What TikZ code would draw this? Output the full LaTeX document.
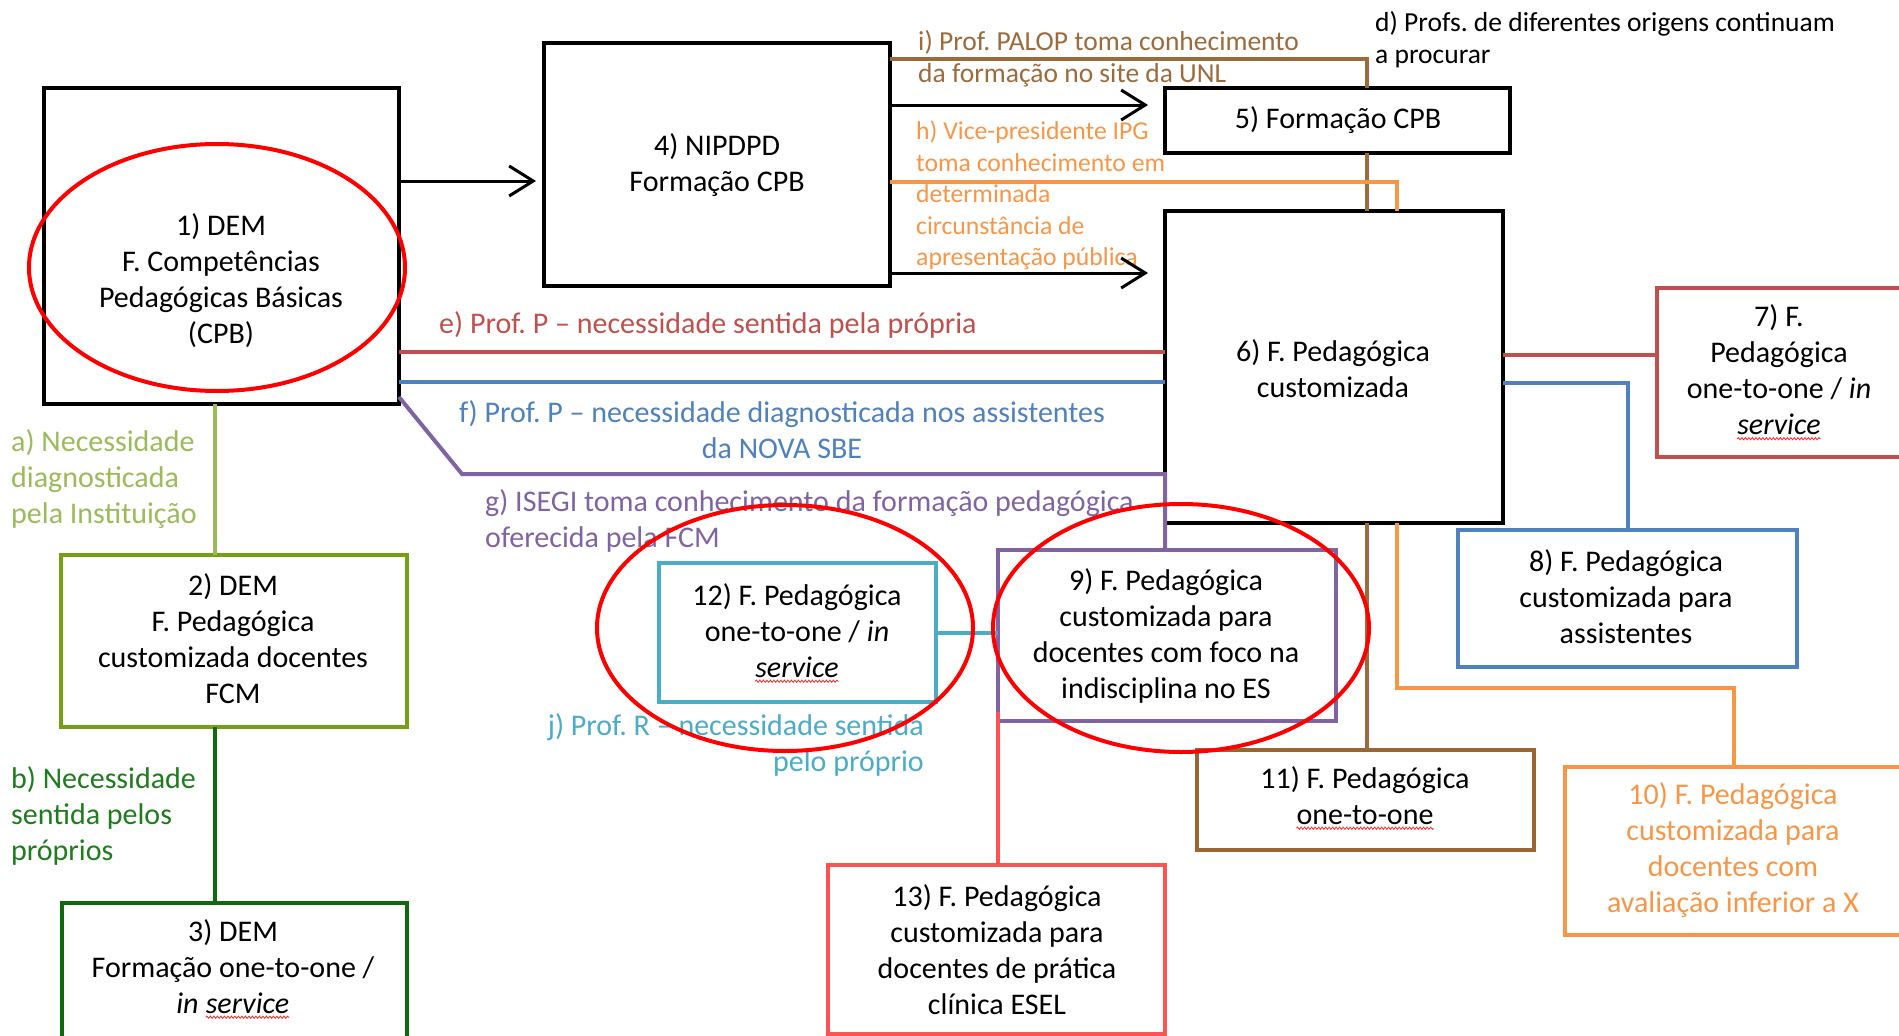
\documentclass[tikz,border=0pt]{standalone}
\usepackage{fontspec}
\setmainfont{Carlito}
\usetikzlibrary{arrows.meta,decorations.pathmorphing,calc}
\definecolor{cRed}{HTML}{C0504D}
\definecolor{cBlue}{HTML}{4F81BD}
\definecolor{cPurple}{HTML}{8064A2}
\definecolor{cOrange}{HTML}{F79646}
\definecolor{cBrown}{HTML}{9C6B3C}
\definecolor{cBrownBox}{HTML}{996633}
\definecolor{cCyan}{HTML}{4BACC6}
\definecolor{cLGreen}{HTML}{9BBB59}
\definecolor{cGreen}{HTML}{76A014}
\definecolor{cDGreen}{HTML}{11690F}
\definecolor{cDGreenTxt}{HTML}{1E7B1E}
\definecolor{cCoral}{HTML}{FF5353}
\newcommand\squig[1]{\tikz[baseline=(sq.base)]{\node[inner sep=0pt,outer sep=0pt] (sq) {#1};\draw[red!85,line width=0.8pt,decorate,decoration={snake,amplitude=1.1pt,segment length=3.5pt}] ([yshift=-4pt]sq.base west) -- ([yshift=-4pt]sq.base east);}}
\frenchspacing
\begin{document}
\begin{tikzpicture}[x=1pt,y=-1pt,
  bx/.style={draw=black, line width=3.5pt, inner sep=0pt, outer sep=0pt},
  cbx/.style={draw=#1, line width=4.5pt, inner sep=0pt, outer sep=0pt},
  txt/.style={align=center, inner sep=0pt, font=\fontsize{30}{36}\selectfont},
  lbl/.style={inner sep=0pt, font=\fontsize{30}{36}\selectfont},
  slbl/.style={inner sep=0pt, font=\fontsize{27.5}{32}\selectfont},
  hlbl/.style={inner sep=0pt, font=\fontsize{25.7}{31.5}\selectfont},
  conn/.style={line width=4pt},
  arr/.style={line width=3pt, -{Straight Barb[length=24pt,width=30pt]}},
  ring/.style={draw=red, line width=4pt}
]
\useasboundingbox (0,0) rectangle (1899,1036);
\fill[white] (0,0) rectangle (1899,1036);

% boxes
\node[bx, minimum width=355pt, minimum height=316pt] (b1) at (221.5,246) {};
\node[cbx=cGreen, minimum width=346pt, minimum height=172pt] (b2) at (234,641) {};
\node[cbx=cDGreen, minimum width=345pt, minimum height=157pt] (b3) at (234.5,981.5) {};
\node[bx, minimum width=346pt, minimum height=243pt] (b4) at (717,164.5) {};
\node[bx, minimum width=345pt, minimum height=65pt] (b5) at (1337.5,120.5) {};
\node[bx, minimum width=338pt, minimum height=312pt] (b6) at (1334,367) {};
\node[cbx=cRed, minimum width=248pt, minimum height=169pt] (b7) at (1781,372.5) {};
\node[cbx=cBlue, minimum width=339pt, minimum height=137pt] (b8) at (1627.5,598.5) {};
\node[cbx=cPurple, minimum width=338pt, minimum height=171pt] (b9) at (1167,635.5) {};
\node[cbx=cOrange, minimum width=338pt, minimum height=168pt] (b10) at (1734,851) {};
\node[cbx=cBrownBox, minimum width=337pt, minimum height=100pt] (b11) at (1365.5,800) {};
\node[cbx=cCyan, minimum width=277pt, minimum height=139pt] (b12) at (797.5,632.5) {};
\node[cbx=cCoral, minimum width=337pt, minimum height=169pt] (b13) at (996.5,949.5) {};

% box texts
\node[txt] (t1) at (221,281) {1) DEM\\F. Competências\\Pedagógicas Básicas\\(CPB)};
\node[txt] (t2) at (233,639) {2) DEM\\F. Pedagógica\\customizada docentes\\FCM};
\node[txt] (t3) at (233,969) {3) DEM\\Formação one-to-one /\\\textit{in \squig{service}}};
\node[txt] (t4) at (717,165) {4) NIPDPD\\Formação CPB};
\node[txt] (t5) at (1338,120) {5) Formação CPB};
\node[txt] (t6) at (1333,369) {6) F. Pedagógica\\customizada};
\node[txt] (t7) at (1779,372.5) {7) F.\\Pedagógica\\one-to-one / \textit{in}\\\textit{\squig{service}}};
\node[txt] (t8) at (1626,596.5) {8) F. Pedagógica\\customizada para\\assistentes};
\node[txt] (t9) at (1166,636) {9) F. Pedagógica\\customizada para\\docentes com foco na\\indisciplina no ES};
\node[txt, text=cOrange] (t10) at (1733,850) {10) F. Pedagógica\\customizada para\\docentes com\\avaliação inferior a X};
\node[txt] (t11) at (1365,798) {11) F. Pedagógica\\\squig{one-to-one}};
\node[txt] (t12) at (797,633) {12) F. Pedagógica\\one-to-one / \textit{in}\\\textit{\squig{service}}};
\node[txt] (t13) at (997,950) {13) F. Pedagógica\\customizada para\\docentes de prática\\clínica ESEL};

% labels
\node[lbl, text=cLGreen, align=left, anchor=west] (la) at (11,479) {a) Necessidade\\diagnosticada\\pela Instituição};
\node[lbl, text=cDGreenTxt, align=left, anchor=west] (lb) at (11,816) {b) Necessidade\\sentida pelos\\próprios};
\node[slbl, text=black, align=left, anchor=west] (ld) at (1375,39.5) {d) Profs. de diferentes origens continuam\\a procurar};
\node[lbl, text=cRed, anchor=west] (le) at (439,325) {e) Prof. P – necessidade sentida pela própria};
\node[lbl, text=cBlue, align=center] (lf) at (782,429.5) {f) Prof. P – necessidade diagnosticada nos assistentes\\da NOVA SBE};
\node[lbl, text=cPurple, align=left, anchor=west] (lg) at (485,521) {g) ISEGI toma conhecimento da formação pedagógica\\oferecida pela FCM};
\node[hlbl, text=cOrange, align=left, anchor=west] (lh) at (916,195.5) {h) Vice-presidente IPG\\toma conhecimento em\\determinada\\circunstância de\\apresentação pública};
\node[slbl, text=cBrown, align=left, anchor=west] (li) at (918,59) {i) Prof. PALOP toma conhecimento\\da formação no site da UNL};
\node[lbl, text=cCyan, align=right, anchor=east] (lj) at (924,745) {j) Prof. R – necessidade sentida\\pelo próprio};

% arrows
\draw[arr, shorten >=8pt] ([yshift=65pt]b1.east) -- ([yshift=65pt]b1.east -| b4.west);
\draw[arr, shorten >=17pt] ([yshift=59.5pt]b4.east) -- ([yshift=59.5pt]b4.east -| b5.west);
\draw[arr, shorten >=17pt] ([yshift=-108.5pt]b4.east) -- ([yshift=-108.5pt]b4.east -| b6.west);

% brown i
\draw[conn, cBrown] ([yshift=105.5pt]b4.east) -| ([xshift=29.5pt]b5.north);
\draw[conn, cBrown] ([xshift=29.5pt]b5.south) -- ([xshift=29.5pt]b5.south |- b6.north);
\draw[conn, cBrown] ([xshift=33pt]b6.south) -- ([xshift=33pt]b6.south |- b11.north);

% orange h
\draw[conn, cOrange] ([yshift=-17.5pt]b4.east) -| ([xshift=63pt]b6.north);
\draw[conn, cOrange] ([xshift=63pt]b6.south) -- ++(0,165) -| (b10.north);

% red e
\draw[conn, cRed] ([yshift=-106pt]b1.east) -- ([yshift=-106pt]b1.east -| b6.west);
\draw[conn, cRed] ([yshift=12pt]b6.east) -- ([yshift=12pt]b6.east -| b7.west);

% blue f
\draw[conn, cBlue] ([yshift=-136pt]b1.east) -- ([yshift=-136pt]b1.east -| b6.west);
\draw[conn, cBlue] ([yshift=-16pt]b6.east) -| (b8.north);

% purple g
\coordinate (gbend) at (462,474);
\draw[conn, cPurple] ([yshift=7pt]b1.south east) -- (gbend) -- (gbend -| b6.west) -- (b6.west |- b9.north);

% cyan j
\draw[conn, cCyan] (b12.east) -- (b12.east -| b9.west);

% coral to 13
\draw[conn, cCoral] ([yshift=-76.5pt]b9.west) -- (b9.west |- b13.north);

% greens a, b
\draw[conn, cLGreen] ([xshift=-6.5pt]b1.south) -- ([xshift=-6.5pt]b1.south |- b2.north);
\draw[conn, cDGreen] ([xshift=-19pt]b2.south) -- ([xshift=-19pt]b2.south |- b3.north);

% red ellipses
\draw[ring] (217,267.5) ellipse [x radius=188pt, y radius=123.5pt];
\draw[ring] (1181,628) ellipse [x radius=188pt, y radius=124pt];
\draw[ring] (785,628) ellipse [x radius=188pt, y radius=123pt];
\end{tikzpicture}
\end{document}
